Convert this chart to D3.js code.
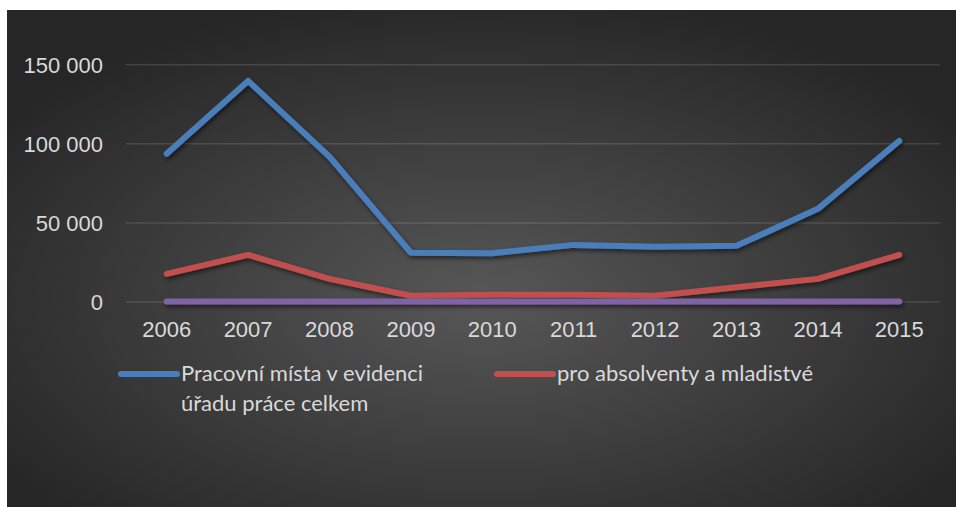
<!DOCTYPE html>
<html>
<head>
<meta charset="utf-8">
<script src="https://cdn.jsdelivr.net/npm/d3@7"></script>
<style>
body{margin:0;background:#fff;}
svg{display:block;font-family:Lato,"Open Sans",sans-serif;}
</style>
</head>
<body>
<svg></svg>
<script>
// chart data
var years=['2006','2007','2008','2009','2010','2011','2012','2013','2014','2015'];
var celkem=[93500,139500,91500,30800,30500,35800,34600,35200,58600,101600];
var absolventi=[17500,29500,14300,3600,4200,4200,3600,9000,14300,29500];
var ostatni=[0,0,0,0,0,0,0,0,0,0];
var yTicks=[0,50000,100000,150000];
var seriesNames=['Pracovní místa v evidenci|úřadu práce celkem','pro absolventy a mladistvé'];

var width=956;
var height=507;

var series=[
	{values:celkem,color:'#4a7ebb'},
	{values:absolventi,color:'#c0504d'},
	{values:ostatni,color:'#8064a2'}
];

var svg=d3.select('svg')
	.attr('width',width)
	.attr('height',height);

var defs=svg.append('defs');
var grad=defs.append('radialGradient')
	.attr('id','bg')
	.attr('cx','50%').attr('cy','58%').attr('r','62%');
grad.append('stop').attr('offset','0%').attr('stop-color','#575757');
grad.append('stop').attr('offset','100%').attr('stop-color','#262626');

// user space region so the flat purple line still gets drawn
var shadow=defs.append('filter').attr('id','shadow')
	.attr('filterUnits','userSpaceOnUse')
	.attr('x',0).attr('y',0).attr('width',width).attr('height',height);
shadow.append('feDropShadow')
	.attr('dx',1.5).attr('dy',2.5).attr('stdDeviation',2)
	.attr('flood-color','#000').attr('flood-opacity',0.55);

svg.append('rect')
	.attr('x',7).attr('y',10)
	.attr('width',width-7).attr('height',height-10)
	.attr('fill','url(#bg)');

var xScale=d3.scaleBand()
	.domain(years)
	.range([126,940]);

var yScale=d3.scaleLinear()
	.domain([0,150000])
	.range([301.5,64.3]);

var fmt=function(d){return d3.format(',')(d).replace(/,/g,' ');};

var yAxis=d3.axisLeft(yScale)
	.tickValues(yTicks)
	.tickSize(-(940-126))
	.tickPadding(23)
	.tickFormat(fmt);

var gy=svg.append('g')
	.attr('transform','translate(126,0)')
	.call(yAxis);
gy.select('.domain').remove();
gy.selectAll('line').attr('stroke','#ffffff').attr('stroke-opacity',0.12).attr('stroke-width',1.5);
gy.selectAll('text').attr('fill','#d9d9d9').style('font-size','22px').attr('dy','0.36em');

var xAxis=d3.axisBottom(xScale)
	.tickSize(0)
	.tickPadding(20);

var gx=svg.append('g')
	.attr('transform','translate(0,301.5)')
	.call(xAxis);
gx.select('.domain').remove();
gx.selectAll('text').attr('fill','#d9d9d9').style('font-size','22px');

var line=d3.line()
	.x(function(d,i){return xScale(years[i])+xScale.bandwidth()/2;})
	.y(function(d){return yScale(d);});

svg.selectAll('path.series')
	.data(series)
	.enter()
	.append('path')
	.attr('class','series')
	.attr('d',function(s){return line(s.values);})
	.attr('fill','none')
	.attr('stroke',function(s){return s.color;})
	.attr('stroke-width',6)
	.attr('stroke-linecap','round')
	.attr('stroke-linejoin','round')
	.attr('filter','url(#shadow)');

// legend
var legendX=[121,497];
var leg=svg.selectAll('g.legend')
	.data(seriesNames)
	.enter()
	.append('g')
	.attr('class','legend')
	.attr('transform',function(d,i){return 'translate('+legendX[i]+',374)';});

leg.append('line')
	.attr('x1',0).attr('x2',56)
	.attr('y1',0).attr('y2',0)
	.attr('stroke',function(d,i){return series[i].color;})
	.attr('stroke-width',6)
	.attr('stroke-linecap','round');

leg.append('text')
	.attr('x',60)
	.attr('y',7)
	.attr('fill','#d9d9d9')
	.style('font-size','22px')
	.selectAll('tspan')
	.data(function(d){return d.split('|');})
	.enter()
	.append('tspan')
	.attr('x',60)
	.attr('dy',function(d,i){return i===0?0:29.5;})
	.text(function(d){return d;});
</script>
</body>
</html>
